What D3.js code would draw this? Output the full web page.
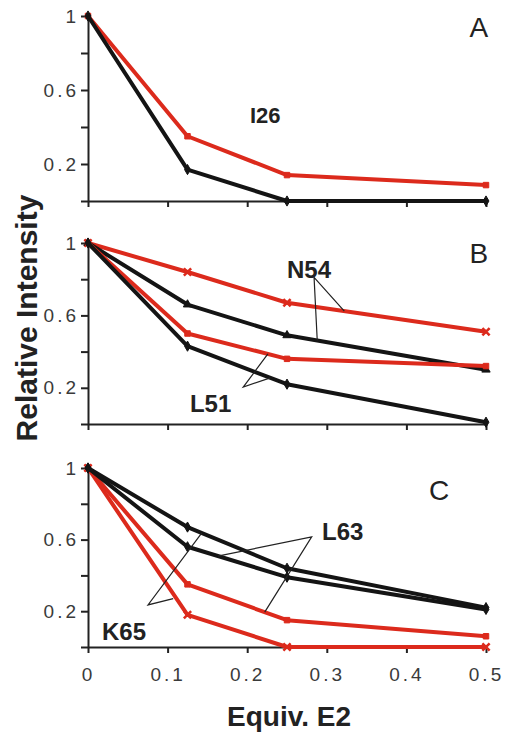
<!DOCTYPE html>
<html>
<head>
<meta charset="utf-8">
<script src="https://cdn.jsdelivr.net/npm/d3@7"></script>
<style>
  body { margin: 0; background: #fff; }
  svg { display: block; font-family: "Liberation Sans", Arial, Helvetica, sans-serif; }
  .tick text { font-size: 19px; letter-spacing: 3px; fill: #3a3a3a; }
  .domain, .tick line { stroke: #222; stroke-width: 2; }
  .lbl { font-weight: bold; font-size: 24px; fill: #222; }
  .panelLetter { font-size: 28px; fill: #222; }
  .leader { stroke: #222; stroke-width: 1.2; fill: none; }
</style>
</head>
<body>
<div id="chart"></div>
<script>
// equivalents of E2 added
const xVals = [0, 0.125, 0.25, 0.5];

// panel A
const aBlack = [1, 0.17, 0, 0];
const aRed = [1, 0.35, 0.14, 0.086];

// panel B
const bRedN54 = [1, 0.84, 0.67, 0.51];
const bBlackN54 = [1, 0.66, 0.49, 0.30];
const bRedL51 = [1, 0.50, 0.36, 0.32];
const bBlackL51 = [1, 0.43, 0.22, 0.01];

// panel C
const cBlackUp = [1, 0.67, 0.44, 0.22];
const cBlackLow = [1, 0.56, 0.39, 0.21];
const cRedUp = [1, 0.35, 0.15, 0.06];
const cRedLow = [1, 0.18, 0, 0];

const yTicks = [0, 0.2, 0.4, 0.6, 0.8, 1];
const yTickLabels = [0.2, 0.6, 1];
const xTicks = [0, 0.1, 0.2, 0.3, 0.4, 0.5];

const RED = "#dc2a1c";
const BLACK = "#141414";

const svgWidth = 508;
const svgHeight = 734;

const svg = d3.select("#chart")
  .append("svg")
  .attr("width", svgWidth)
  .attr("height", svgHeight);

const x = d3.scaleLinear().domain([0, 0.5]).range([88, 486]);

const panels = [
  {
    id: "A", top: 16, bottom: 201, xLabels: false,
    series: [
      { v: aRed, color: RED, sym: "square" },
      { v: aBlack, color: BLACK, sym: "diamond" }
    ],
    letter: { x: 0.491, y: 0.886 },
    labels: [{ text: "I26", x: 0.2035, y: 0.42, size: 22 }],
    leaders: []
  },
  {
    id: "B", top: 243, bottom: 424, xLabels: false,
    series: [
      { v: bRedN54, color: RED, sym: "x" },
      { v: bBlackN54, color: BLACK, sym: "triangle" },
      { v: bRedL51, color: RED, sym: "square" },
      { v: bBlackL51, color: BLACK, sym: "diamond" }
    ],
    letter: { x: 0.491, y: 0.89 },
    labels: [
      { text: "N54", x: 0.25, y: 0.807, size: 24 },
      { text: "L51", x: 0.128, y: 0.066, size: 24 }
    ],
    leaders: [
      [[0.322, 0.624], [0.284, 0.81], [0.288, 0.461]],
      [[0.226, 0.387], [0.195, 0.204], [0.229, 0.255]]
    ]
  },
  {
    id: "C", top: 468, bottom: 647, xLabels: true,
    series: [
      { v: cRedUp, color: RED, sym: "square" },
      { v: cRedLow, color: RED, sym: "x" },
      { v: cBlackUp, color: BLACK, sym: "diamond" },
      { v: cBlackLow, color: BLACK, sym: "diamond" }
    ],
    letter: { x: 0.441, y: 0.82 },
    labels: [
      { text: "L63", x: 0.294, y: 0.598, size: 24 },
      { text: "K65", x: 0.0176, y: 0.04, size: 24 }
    ],
    leaders: [
      [[0.163, 0.508], [0.281, 0.615], [0.222, 0.195]],
      [[0.143, 0.637], [0.0754, 0.235], [0.107, 0.27]]
    ]
  }
];

const symbols = {
  square: d3.symbolSquare,
  diamond: d3.symbolDiamond,
  triangle: d3.symbolTriangle,
  x: d3.symbolX || d3.symbolTimes
};

panels.forEach(function(p) {
  const y = d3.scaleLinear().domain([0, 1]).range([p.bottom, p.top]);
  const g = svg.append("g");

  // axes
  g.append("g")
    .attr("transform", `translate(0, ${p.bottom})`)
    .call(d3.axisBottom(x)
      .tickValues(xTicks)
      .tickSize(6)
      .tickSizeOuter(0)
      .tickPadding(15)
      .tickFormat(d => p.xLabels ? d3.format("")(d) : ""));

  g.append("g")
    .attr("transform", `translate(${x(0)}, 0)`)
    .call(d3.axisLeft(y)
      .tickValues(yTicks)
      .tickSize(7)
      .tickSizeOuter(0)
      .tickPadding(2)
      .tickFormat(d => yTickLabels.includes(d) ? String(d) : ""));

  const line = d3.line()
    .x((d, i) => x(xVals[i]))
    .y(d => y(d));

  p.series.forEach(function(s) {
    g.append("path")
      .datum(s.v)
      .attr("d", line)
      .attr("fill", "none")
      .attr("stroke", s.color)
      .attr("stroke-width", 4)
      .attr("stroke-linejoin", "round");

    const isX = s.sym === "x";
    g.selectAll(null)
      .data(s.v)
      .enter()
      .append("path")
      .attr("transform", (d, i) => `translate(${x(xVals[i])}, ${y(d)})`)
      .attr("d", d3.symbol().type(symbols[s.sym]).size(isX ? 36 : 30))
      .attr("fill", isX ? "none" : s.color)
      .attr("stroke", s.color)
      .attr("stroke-width", isX ? 2.5 : 1);
  });

  // leader lines
  p.leaders.forEach(function(pts) {
    g.append("path")
      .attr("class", "leader")
      .attr("d", d3.line().x(d => x(d[0])).y(d => y(d[1]))(pts));
  });

  p.labels.forEach(function(l) {
    g.append("text")
      .attr("class", "lbl")
      .attr("x", x(l.x))
      .attr("y", y(l.y))
      .style("font-size", l.size + "px")
      .text(l.text);
  });

  g.append("text")
    .attr("class", "panelLetter")
    .attr("x", x(p.letter.x))
    .attr("y", y(p.letter.y))
    .attr("text-anchor", "middle")
    .text(p.id);
});

// axis titles
svg.append("text")
  .attr("transform", "translate(37, 318) rotate(-90)")
  .attr("text-anchor", "middle")
  .style("font-weight", "bold")
  .style("font-size", "30px")
  .style("fill", "#222")
  .text("Relative Intensity");

svg.append("text")
  .attr("x", 289)
  .attr("y", 726)
  .attr("text-anchor", "middle")
  .style("font-weight", "bold")
  .style("font-size", "28px")
  .style("fill", "#222")
  .text("Equiv. E2");
</script>
</body>
</html>
